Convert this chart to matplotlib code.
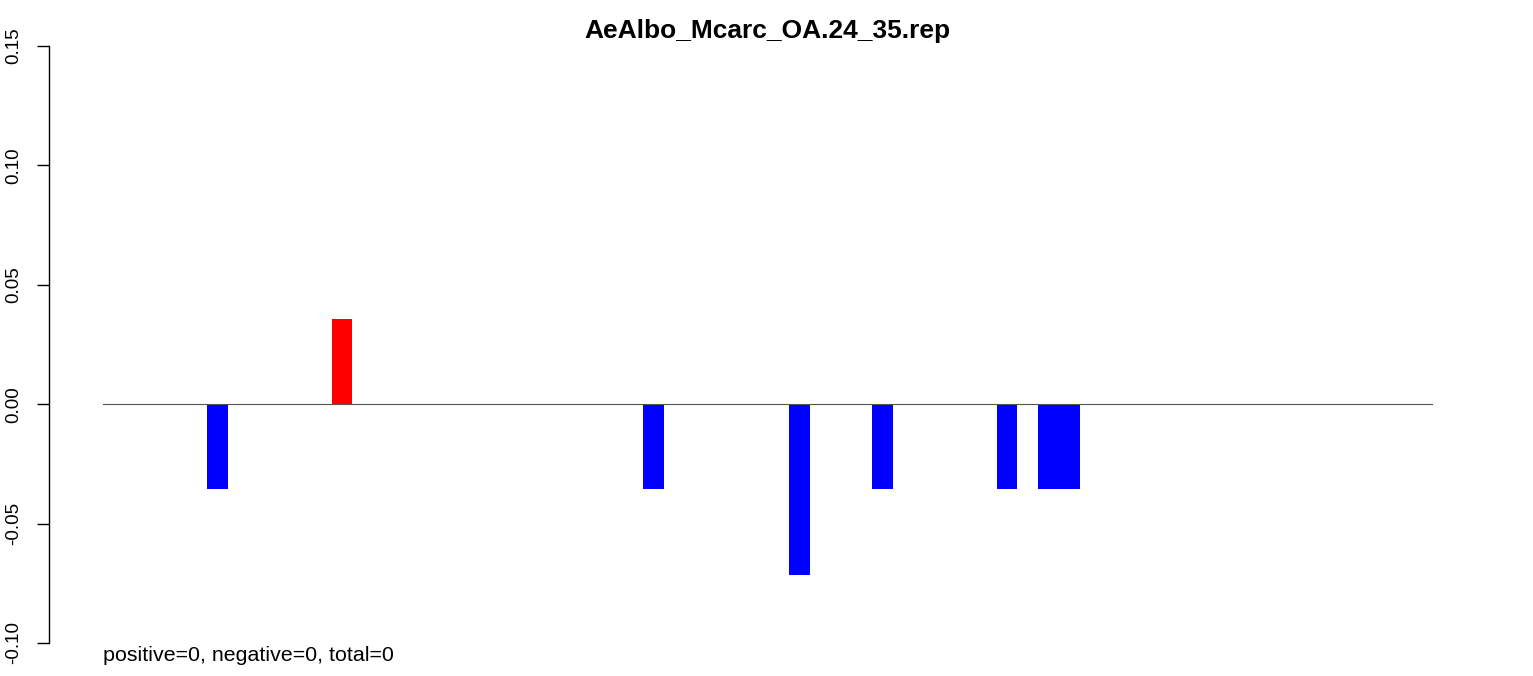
import matplotlib
matplotlib.use("Agg")
import matplotlib.pyplot as plt

plt.rcParams['font.family'] = ['Liberation Sans', 'DejaVu Sans']

TITLE = "AeAlbo_Mcarc_OA.24_35.rep"
NOTE = "positive=0, negative=0, total=0"

# one value per window, mostly empty
values = [0.0] * 64
bar_index = [5, 11, 26, 33, 37, 43, 45, 46]
bar_value = [-0.0357, 0.0357, -0.0357, -0.0714, -0.0357, -0.0357, -0.0357, -0.0357]
for i, v in zip(bar_index, bar_value):
    values[i] = v

yticks = [-0.10, -0.05, 0.00, 0.05, 0.10, 0.15]

W, H = 1533, 676
fig = plt.figure(figsize=(W / 100, H / 100), dpi=100)
ax = fig.add_axes([49 / W, (H - 643) / H, (1433 - 49) / W, (643 - 46) / H])

colors = ["red" if v > 0 else "blue" for v in values]
ax.bar(range(len(values)), values, width=1.0, align="edge", color=colors, linewidth=0)
ax.plot([0, len(values)], [0, 0], color="#555555", linewidth=0.8)

ax.set_xlim(-(103 - 49) / 20.78, len(values))
ax.set_ylim(-0.10, 0.15)
ax.set_yticks(yticks)
ax.set_yticklabels([f"{t:.2f}" for t in yticks], rotation=90, va="center")
ax.tick_params(axis="y", length=8.6, width=1, pad=11, labelsize=13.5)
ax.set_xticks([])
for s in ["top", "right", "bottom"]:
    ax.spines[s].set_visible(False)
ax.spines["left"].set_linewidth(1)

fig.text(767 / W, 1 - 38 / H, TITLE, ha="center", va="baseline", fontsize=19, fontweight="bold")
fig.text(103 / W, 1 - 661 / H, NOTE, ha="left", va="baseline", fontsize=15.4)

fig.savefig("out.png", dpi=100)
